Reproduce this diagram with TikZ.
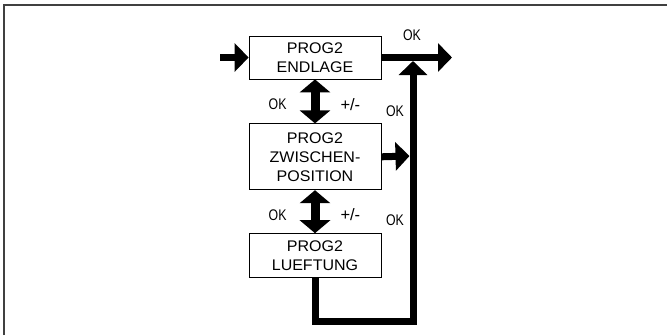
\documentclass[tikz,border=0pt]{standalone}
\usepackage{fontspec}
\setmainfont{Liberation Sans}
\newfontfamily\boxfont[FakeStretch=1.04]{Liberation Sans}
\newfontfamily\lblfont[FakeStretch=0.8]{Liberation Sans}
\usepackage{tikz}
\usetikzlibrary{arrows.meta,positioning}

\begin{document}
\begin{tikzpicture}[
    x=1pt, y=-1pt,
    node distance=44pt,
    box/.style={rectangle, draw, line width=0.8pt, minimum width=132pt, inner sep=0pt, align=center, font=\boxfont\fontsize{15.4}{19}\selectfont},
    line/.style={draw, line width=7pt, line join=miter, -{Triangle[length=14pt, width=28pt]}},
    dbl/.style={draw, line width=9pt, {Triangle[length=13pt, width=30pt]}-{Triangle[length=13pt, width=30pt]}},
    lbl/.style={font=\lblfont\fontsize{15.4}{17}\selectfont, inner sep=0pt},
    pm/.style={font=\fontsize{16.5}{17}\selectfont, inner sep=0pt},
    frame/.style={draw=black!75, line width=1.5pt}
]
    \useasboundingbox (0,0) rectangle (667,335);
    \draw [frame] (4,335) -- (4,5) -- (667,5);

    \node [box, minimum height=43pt] (endlage) at (315,57.5) {PROG2\\ENDLAGE};
    \node [box, minimum height=66pt, below=of endlage] (zwischen) {PROG2\\ZWISCHEN-\\POSITION};
    \node [box, minimum height=44pt, below=43pt of zwischen] (lueftung) {PROG2\\LUEFTUNG};

    \coordinate (in) at (220,57.5);
    \coordinate (out) at (452,57.5);
    \coordinate (back) at (413,321);
    \coordinate (join) at (413,61);
    \coordinate (side) at (409.5,156);

    \draw [line] (in) -- (endlage.west);
    \draw [line] (endlage.east) -- (out);
    \draw [line] (lueftung.south) |- (back) -- (join);
    \draw [line] (zwischen.east) -- (side);

    \draw [dbl] (endlage.south) -- node [lbl, left=24pt, yshift=-3pt] (ok1) {OK} node [pm, right=21pt, yshift=-3pt] (pm1) {+/-} (zwischen.north);
    \draw [dbl] (zwischen.south) -- node [lbl, left=24pt, yshift=-3pt] (ok2) {OK} node [pm, right=21pt, yshift=-3pt] (pm2) {+/-} (lueftung.north);

    \node [lbl] (okout) at (412,35) {OK};
    \node [lbl] (okup) at (395,111) {OK};
    \node [lbl] (oklow) at (395,220) {OK};
\end{tikzpicture}
\end{document}
